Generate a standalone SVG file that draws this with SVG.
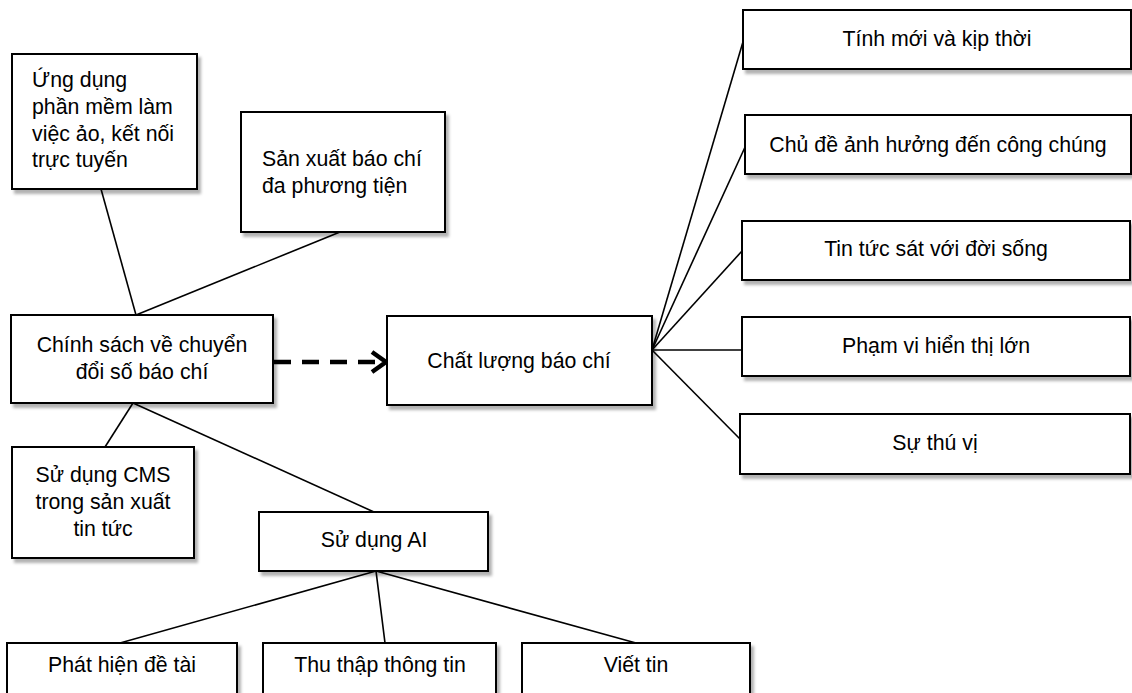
<svg xmlns="http://www.w3.org/2000/svg" width="1132" height="693" viewBox="0 0 1132 693">
<defs>
<filter id="sh" x="-10%" y="-10%" width="130%" height="140%">
<feDropShadow dx="3" dy="4" stdDeviation="1.5" flood-color="#000" flood-opacity="0.3"/>
</filter>
</defs>
<style>
.box{fill:#fff;stroke:#000;stroke-width:2;filter:url(#sh)}
.t{font-family:"Liberation Sans",Arial,sans-serif;font-size:21.3px;fill:#000}
.c{text-anchor:middle}
.ln{stroke:#000;stroke-width:1.6;fill:none}
.dash{stroke:#000;stroke-width:4.5;fill:none;stroke-dasharray:17 11}
.head{stroke:#000;stroke-width:4.5;fill:none}
</style>
<rect width="1132" height="693" fill="#fff"/>
<g id="connectors">
<line class="ln" x1="101" y1="189" x2="136" y2="315"/>
<line class="ln" x1="340" y1="232" x2="136" y2="315"/>
<line class="ln" x1="133" y1="403" x2="105" y2="447"/>
<line class="ln" x1="133" y1="403" x2="374" y2="512"/>
<line class="ln" x1="652" y1="350" x2="745" y2="35"/>
<line class="ln" x1="652" y1="350" x2="746" y2="145"/>
<line class="ln" x1="652" y1="350" x2="742" y2="251"/>
<line class="ln" x1="652" y1="350" x2="742" y2="350"/>
<line class="ln" x1="652" y1="350" x2="740" y2="439"/>
<line class="ln" x1="376" y1="571" x2="120" y2="643"/>
<line class="ln" x1="376" y1="571" x2="385" y2="643"/>
<line class="ln" x1="376" y1="571" x2="636" y2="643"/>
<line class="dash" x1="274" y1="362" x2="384" y2="362"/>
<polyline class="head" points="372,352 386,362 372,372"/>
</g>
<g id="n-ungdung">
<rect class="box" x="12" y="54" width="185" height="135"/>
<text class="t" x="32" y="87">Ứng dụng</text>
<text class="t" x="32" y="114">phần mềm làm</text>
<text class="t" x="32" y="141">việc ảo, kết nối</text>
<text class="t" x="32" y="167">trực tuyến</text>
</g>
<g id="n-sanxuat">
<rect class="box" x="241" y="112" width="204" height="120"/>
<text class="t" x="262" y="166">Sản xuất báo chí</text>
<text class="t" x="262" y="193">đa phương tiện</text>
</g>
<g id="n-chinhsach">
<rect class="box" x="11" y="315" width="262" height="88"/>
<text class="t c" x="142" y="352">Chính sách về chuyển</text>
<text class="t c" x="142" y="379">đổi số báo chí</text>
</g>
<g id="n-chatluong">
<rect class="box" x="387" y="316" width="265" height="89"/>
<text class="t c" x="519" y="368">Chất lượng báo chí</text>
</g>
<g id="n-tinhmoi">
<rect class="box" x="743" y="10" width="388" height="59"/>
<text class="t c" x="937" y="46">Tính mới và kịp thời</text>
</g>
<g id="n-chude">
<rect class="box" x="745" y="115" width="386" height="59"/>
<text class="t c" x="938" y="152">Chủ đề ảnh hưởng đến công chúng</text>
</g>
<g id="n-tintuc">
<rect class="box" x="742" y="221" width="388" height="59"/>
<text class="t c" x="936" y="256">Tin tức sát với đời sống</text>
</g>
<g id="n-phamvi">
<rect class="box" x="742" y="317" width="388" height="59"/>
<text class="t c" x="936" y="353">Phạm vi hiển thị lớn</text>
</g>
<g id="n-thuvi">
<rect class="box" x="740" y="414" width="390" height="60"/>
<text class="t c" x="935" y="450">Sự thú vị</text>
</g>
<g id="n-cms">
<rect class="box" x="12" y="447" width="182" height="111"/>
<text class="t c" x="103" y="482">Sử dụng CMS</text>
<text class="t c" x="103" y="509">trong sản xuất</text>
<text class="t c" x="103" y="536">tin tức</text>
</g>
<g id="n-ai">
<rect class="box" x="259" y="512" width="229" height="59"/>
<text class="t c" x="374" y="547">Sử dụng AI</text>
</g>
<g id="n-phathien">
<rect class="box" x="7" y="643" width="230" height="62"/>
<text class="t c" x="122" y="672">Phát hiện đề tài</text>
</g>
<g id="n-thuthap">
<rect class="box" x="263" y="643" width="233" height="62"/>
<text class="t c" x="380" y="672">Thu thập thông tin</text>
</g>
<g id="n-viettin">
<rect class="box" x="522" y="643" width="228" height="62"/>
<text class="t c" x="636" y="672">Viết tin</text>
</g>
</svg>
